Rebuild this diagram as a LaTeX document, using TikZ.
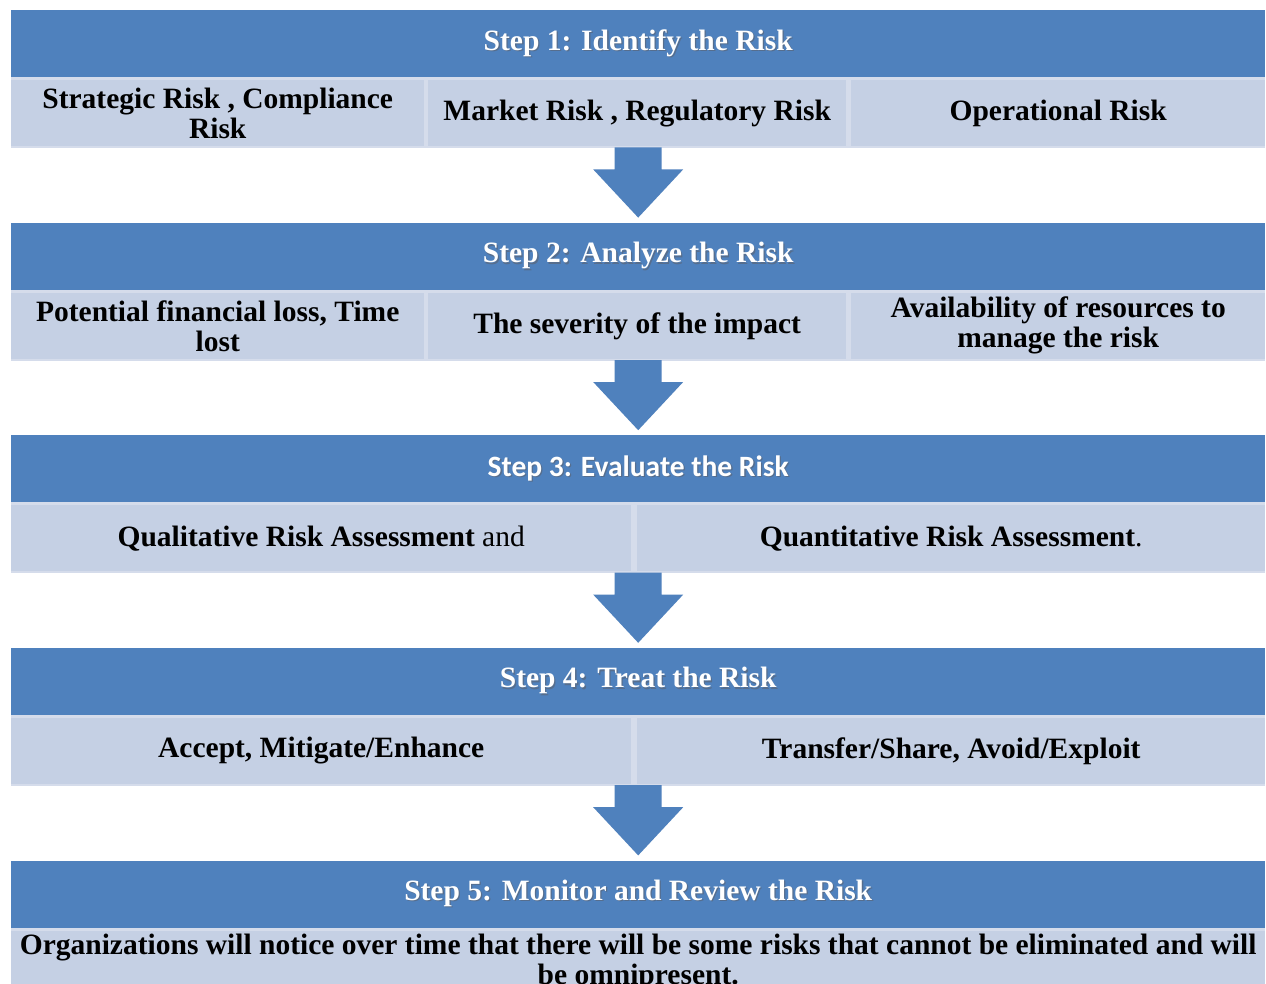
\documentclass[tikz,border=0pt]{standalone}
\usepackage{fontspec}
\setmainfont{Liberation Serif}
\newfontfamily\calibrifont{Carlito}
\usetikzlibrary{calc}

\definecolor{hdrblue}{HTML}{4F81BD}
\definecolor{cellblue}{HTML}{C5D0E4}
\definecolor{seamblue}{HTML}{D5DCEB}
\definecolor{shadowblue}{HTML}{2C4A72}

% white header text with a soft drop shadow
\newcommand\shtext[1]{\leavevmode\rlap{\kern1.3pt\raisebox{-1.3pt}{\color{shadowblue!80}#1}}#1}

\tikzset{
  txt/.style={font=\bfseries\fontsize{29.5}{30}\selectfont},
  header/.style={txt, fill=hdrblue, minimum width=1254pt, minimum height=67pt,
    anchor=north west, inner sep=0pt, text=white},
  band/.style={fill=seamblue, minimum width=1254pt, minimum height=71pt,
    anchor=north west, inner sep=0pt},
  cell/.style={txt, fill=cellblue, anchor=north west, inner sep=0pt,
    minimum height=66pt, align=center},
  third/.style={cell, minimum width=413pt},
  thirdmid/.style={cell, minimum width=418pt},
  thirdr/.style={cell, minimum width=414pt},
  half/.style={cell, minimum width=620pt},
  halfr/.style={cell, minimum width=628pt},
  blockarrow/.style={fill=hdrblue}
}

% downward block arrow from the bottom of one band to the top of the next header
\newcommand\flowarrow[2]{%
  \fill[blockarrow]
    ($(#1.south)+(-23.5,-1)$) -- ($(#1.south)+(23.5,-1)$) --
    ($(#1.south)+(23.5,21)$) -- ($(#1.south)+(45,21)$) --
    ($(#2.north)+(0,-5)$) --
    ($(#1.south)+(-45,21)$) -- ($(#1.south)+(-23.5,21)$) -- cycle;}

\begin{document}
\begin{tikzpicture}[x=1pt,y=-1pt]
\useasboundingbox (0,0) rectangle (1266,984);
\clip (0,0) rectangle (1266,984);
\fill[white] (0,0) rectangle (1266,984);

% Step 1
\node[header] (h1) at (11,10) {\shtext{Step 1: Identify the Risk}};
\node[band] (b1) at (11,77) {};
\node[third]    (c11) at (11,80)  {Strategic Risk , Compliance\\Risk};
\node[thirdmid] (c12) at (428,80) {Market Risk , Regulatory Risk};
\node[thirdr]   (c13) at (851,80) {Operational Risk};

% Step 2
\node[header] (h2) at (11,222.6) {\shtext{Step 2: Analyze the Risk}};
\node[band] (b2) at (11,289.6) {};
\node[third]    (c21) at (11,292.6)  {Potential financial loss, Time\\lost};
\node[thirdmid] (c22) at (428,292.6) {The severity of the impact};
\node[thirdr]   (c23) at (851,292.6) {Availability of resources to\\manage the risk};

% Step 3
\node[header, font=\calibrifont\bfseries\fontsize{29.5}{30}\selectfont] (h3) at (11,435.2)
  {\shtext{Step 3: Evaluate the Risk}};
\node[band] (b3) at (11,502.2) {};
\node[half]  (c31) at (11,505.2)  {Qualitative Risk Assessment\mdseries{} and};
\node[halfr] (c32) at (637,505.2) {Quantitative Risk Assessment\mdseries.};

% Step 4
\node[header] (h4) at (11,647.8) {\shtext{Step 4: Treat the Risk}};
\node[band] (b4) at (11,714.8) {};
\node[half]  (c41) at (11,717.8)  {Accept, Mitigate/Enhance};
\node[halfr] (c42) at (637,717.8) {Transfer/Share, Avoid/Exploit};

% Step 5
\node[header] (h5) at (11,860.4) {\shtext{Step 5: Monitor and Review the Risk}};
\node[band, minimum height=80pt] (b5) at (11,927.4) {};
\node[cell, minimum width=1254pt, minimum height=64pt] (c51) at (11,930.4)
  {Organizations will notice over time that there will be some risks that cannot be eliminated and will\\be omnipresent.};

% flow arrows
\flowarrow{b1}{h2}
\flowarrow{b2}{h3}
\flowarrow{b3}{h4}
\flowarrow{b4}{h5}
\end{tikzpicture}
\end{document}
